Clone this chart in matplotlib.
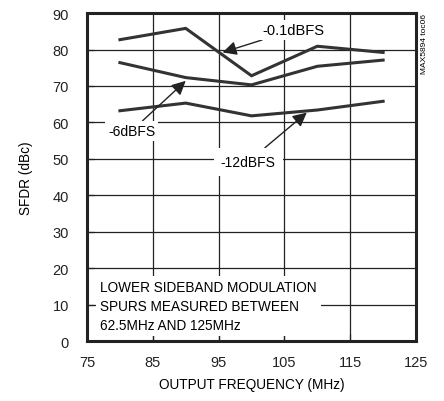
import matplotlib
matplotlib.use("Agg")
import matplotlib.pyplot as plt

plt.rcParams['font.family'] = ['Liberation Sans Narrow', 'Liberation Sans', 'DejaVu Sans']

freq = [80, 90, 100, 110, 120]
sfdr_01 = [82.7, 85.8, 72.8, 80.9, 79.2]
sfdr_6 = [76.4, 72.3, 70.3, 75.4, 77.1]
sfdr_12 = [63.2, 65.3, 61.8, 63.4, 65.8]

xticks = [75, 85, 95, 105, 115, 125]
yticks = list(range(0, 100, 10))

fig = plt.figure(figsize=(4.44, 4.02), dpi=100)
ax = fig.add_axes([0.196, 0.149, 0.741, 0.816])

ax.set_xlim(75, 125)
ax.set_ylim(0, 90)
ax.set_xticks(xticks)
ax.set_yticks(yticks)
ax.grid(True, color="#222222", linewidth=0.9)
ax.set_axisbelow(True)
ax.tick_params(direction="in", length=5, width=0.9, labelsize=10.5, colors="#222222")
ax.tick_params(axis="y", pad=13)
ax.tick_params(axis="x", pad=10)
for s in ax.spines.values():
    s.set_linewidth(2.2)
    s.set_color("#222222")

lc = "#333333"
for ys in (sfdr_01, sfdr_6, sfdr_12):
    ax.plot(freq, ys, color=lc, linewidth=2.2, solid_joinstyle="miter", zorder=3)

box = dict(facecolor="white", edgecolor="none", pad=2)
arrow = dict(arrowstyle="-|>,head_length=0.6,head_width=0.3", color="#222222", lw=1.0,
             mutation_scale=14, shrinkA=0, shrinkB=0)

ax.annotate("-0.1dBFS", xy=(95.6, 79.2), xytext=(106.3, 85.3), fontsize=10.5,
            ha="center", va="center", bbox=box, arrowprops=arrow, zorder=4)
ax.annotate("-6dBFS", xy=(90.0, 71.4), xytext=(81.8, 57.7), fontsize=10,
            ha="center", va="center", bbox=box, arrowprops=arrow, zorder=4)
ax.annotate("-12dBFS", xy=(108.4, 62.7), xytext=(99.5, 49.2), fontsize=10,
            ha="center", va="center", bbox=dict(facecolor="white", edgecolor="none", pad=5),
            arrowprops=arrow, zorder=4)

ax.text(77, 9.7, "LOWER SIDEBAND MODULATION\nSPURS MEASURED BETWEEN\n62.5MHz AND 125MHz",
        fontsize=9.8, ha="left", va="center", linespacing=1.45,
        bbox=dict(facecolor="white", edgecolor="none", pad=3), zorder=4)

ax.set_xlabel("OUTPUT FREQUENCY (MHz)", fontsize=9.8, labelpad=6)
ax.set_ylabel("SFDR (dBc)", fontsize=9.8, labelpad=14)

fig.text(0.957, 0.965, "MAX5894 toc06", rotation=90, fontsize=6, ha="center", va="top")

fig.savefig("out.png", dpi=100)
